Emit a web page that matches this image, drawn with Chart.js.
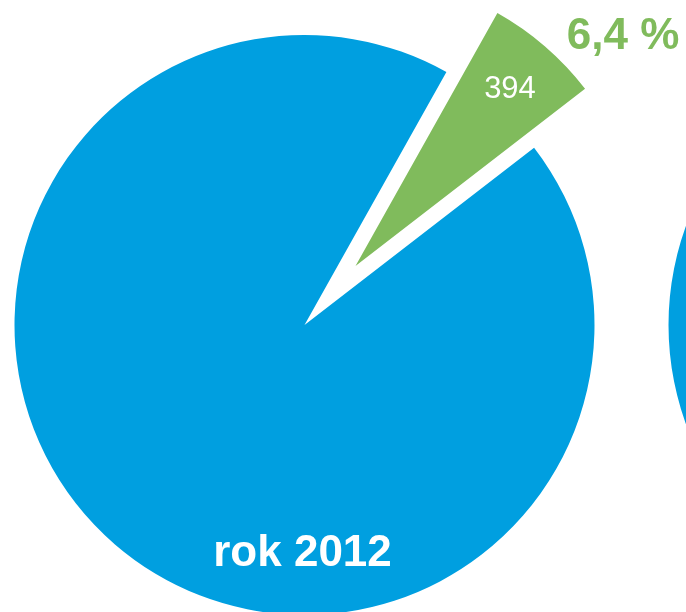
<!DOCTYPE html>
<html>
<head>
<meta charset="utf-8">
<script src="https://cdn.jsdelivr.net/npm/chart.js@4/dist/chart.umd.min.js"></script>
<style>
  html, body { margin: 0; padding: 0; background: #fff; overflow: hidden; }
  #wrap { position: relative; width: 686px; height: 612px; overflow: hidden; }
  canvas { position: absolute; top: 0; }
  #pie2012 { left: 0; }
  #pieNext { left: 654px; }
</style>
</head>
<body>
<div id="wrap">
  <canvas id="pie2012" width="686" height="612"></canvas>
  <canvas id="pieNext" width="686" height="612"></canvas>
</div>
<script>
// data
const categories = ["zielony", "pozostałe"]
const values2012 = [394, 5762]
const yearLabel = "rok 2012"
// neighbouring pie, only its blue edge is visible
const valuesNext = [1]

const BLUE = "#009fe0"
const GREEN = "#80bb5c"
const RADIUS = 290
const PULL = 78 // how far the green slice is pulled out, px
const FONT = "'Liberation Sans', Arial, sans-serif"

function pct(v, all) {
  const total = all.reduce((a, b) => a + b, 0)
  return (v / total * 100).toFixed(1).replace(".", ",") + " %"
}

function textAt(ctx, txt, x, y, size, weight, color) {
  ctx.save()
  ctx.font = weight + " " + size + "px " + FONT
  ctx.fillStyle = color
  ctx.textAlign = "center"
  ctx.textBaseline = "alphabetic"
  ctx.fillText(txt, x, y + size * 0.716 / 2)
  ctx.restore()
}

// chart.js moves an arc by offset/4, grows it and narrows it a bit;
// undo the growing and narrowing so the slice keeps its real size
const keepRadius = {
  id: "keepRadius",
  afterDatasetUpdate(chart, args) {
    const arc = args.meta.data[0]
    const fix = 1 - Math.sin(Math.min(Math.PI, arc.circumference))
    const grow = PULL * fix
    arc.outerRadius = RADIUS - grow
    const d = (grow / Math.PI) / RADIUS / 2
    arc.startAngle -= d
    arc.endAngle += d
  }
}

const labelPlugin = {
  id: "pieLabels",
  afterDatasetsDraw(chart) {
    const ctx = chart.ctx
    const g = chart.getDatasetMeta(0).data[0]
    const mid = (g.startAngle + g.endAngle) / 2
    const ax = g.x + Math.cos(mid) * PULL
    const ay = g.y + Math.sin(mid) * PULL
    const R = RADIUS

    // value inside the green slice
    textAt(ctx, String(values2012[0]),
      ax + Math.cos(mid) * R * 0.815, ay + Math.sin(mid) * R * 0.815, 31, "normal", "#ffffff")

    // percentage outside
    const a2 = mid + 0.143
    textAt(ctx, pct(values2012[0], values2012),
      ax + Math.cos(a2) * R * 1.222, ay + Math.sin(a2) * R * 1.222, 44, "bold", GREEN)

    // year
    textAt(ctx, yearLabel, g.x - 2, g.y + R * 0.777, 44, "bold", "#ffffff")
  }
}

function pieOptions(rotation) {
  return {
    responsive: false,
    animation: false,
    rotation: rotation,
    radius: RADIUS,
    layout: { padding: { left: 0, right: 77, top: 38, bottom: 0 } },
    plugins: {
      legend: { display: false },
      tooltip: { enabled: false },
      title: { display: false }
    },
    events: []
  }
}

new Chart(document.getElementById("pie2012"), {
  type: "pie",
  data: {
    labels: categories,
    datasets: [{
      data: values2012,
      backgroundColor: [GREEN, BLUE],
      borderWidth: 0,
      offset: [PULL * 4, 0]
    }]
  },
  options: pieOptions(29.3),
  plugins: [keepRadius, labelPlugin]
})

new Chart(document.getElementById("pieNext"), {
  type: "pie",
  data: {
    labels: ["pozostałe"],
    datasets: [{
      data: valuesNext,
      backgroundColor: [BLUE],
      borderWidth: 0
    }]
  },
  options: pieOptions(0)
})
</script>
</body>
</html>
